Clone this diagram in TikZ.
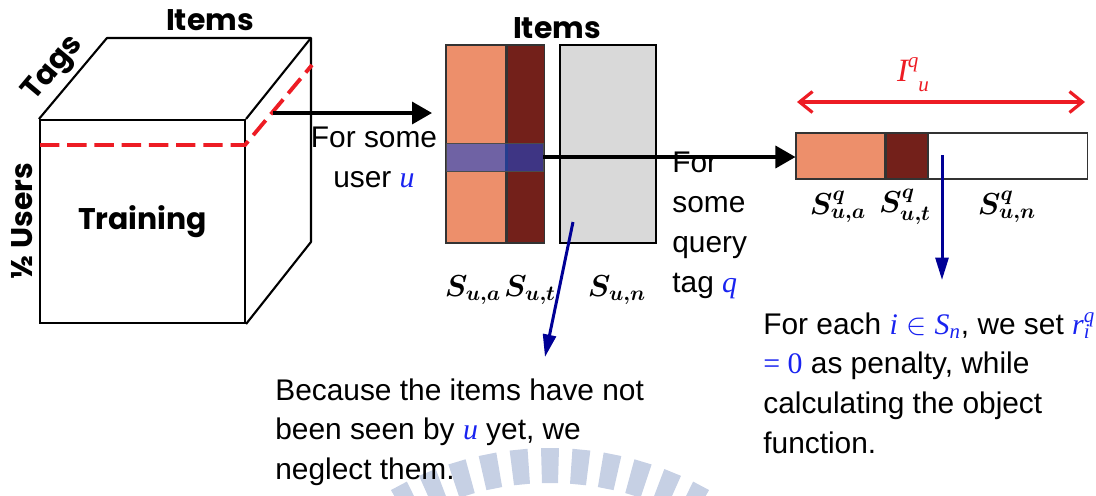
\documentclass[tikz,border=0pt]{standalone}
\usepackage{amsmath,amssymb,bm}
\usepackage{fontspec}
\setmainfont{Liberation Sans}
\newfontfamily\gothic{Poppins}
\newfontfamily\tms{Liberation Serif}
\usepackage{xcolor}
\usepackage{tikz}
\usetikzlibrary{positioning,arrows.meta}
\definecolor{seenorange}{RGB}{237,143,107}
\definecolor{seenred}{RGB}{115,32,26}
\definecolor{unseengray}{RGB}{217,217,217}
\definecolor{bandblue}{RGB}{28,68,203}
\definecolor{mathblue}{RGB}{25,35,240}
\definecolor{arrowblue}{RGB}{0,0,150}
\definecolor{cutred}{RGB}{237,28,36}
\definecolor{wmblue}{RGB}{198,208,228}
\newcommand{\mvar}[1]{{\tms\itshape #1}}
\tikzstyle{arrow} = [line width=2pt,-{Triangle[length=4mm,width=4.4mm]}]
\tikzstyle{bluearrow} = [line width=1.7pt, arrowblue, -{Triangle[length=4.5mm,width=2.6mm]}]
\tikzstyle{spanarrow} = [line width=1.8pt, cutred, {Straight Barb[length=2.6mm,width=4.2mm]}-{Straight Barb[length=2.6mm,width=4.2mm]}]
\tikzstyle{column} = [rectangle, draw=black!80, line width=0.6pt, inner sep=0pt, minimum height=3.96cm]
\tikzstyle{cell} = [rectangle, draw=black!80, line width=0.6pt, inner sep=0pt, minimum height=0.92cm]
\tikzstyle{note} = [align=left, anchor=north west, inner sep=0pt, font=\fontsize{17}{22.7}\selectfont]
\tikzstyle{slabel} = [inner sep=0pt, font=\fontsize{18.5}{20}\selectfont]
\tikzstyle{gothiclabel} = [inner sep=0pt, font=\gothic\bfseries\fontsize{17}{20}\selectfont]

\begin{document}
\begin{tikzpicture}[x=0.02cm, y=-0.02cm]
		\useasboundingbox (0,0) rectangle (1096,495);
		\coordinate (wm) at (550,770);
		\coordinate (cubeside) at (273,113);
		\coordinate (userin) at (432,113);
		\coordinate (unseenfrom) at (573,222);
		\coordinate (unseento) at (545,357);
		\coordinate (penaltyfrom) at (942,155);
		\coordinate (penaltyto) at (942,280);
		\coordinate (spanl) at (797,102);
		\coordinate (spanr) at (1085,102);
		% watermark
		\begin{scope}
		\clip (0,0) rectangle (1096,495);
		\foreach \k in {-8,...,8} {
			\pgfmathsetmacro{\a}{270+\k*5.6}
			\fill[wmblue, shift={(wm)}] (\a-1.6:287) -- (\a-1.6:322) -- (\a+1.6:322) -- (\a+1.6:287) -- cycle;
		}
		\end{scope}
		% Cube
		\node[draw, line width=1.2pt, minimum width=4.1cm, minimum height=4.06cm, gothiclabel, name=front] at (142.5,221.5) {Training};
		\draw[line width=1.2pt, line join=round] (front.north west) -- ++(68,-81) coordinate (backtl) -- ++(204,0) coordinate (backtr) -- ++(0,204) -- (front.south east);
		\draw[line width=1.2pt] (front.north east) -- (backtr);
		\draw[cutred, line width=2.2pt, dash pattern=on 11pt off 4.5pt] (40,145) -- (245,145) -- (312,65);
		\node[gothiclabel, name=cubeitems] at (210,20) {Items};
		\node[gothiclabel, rotate=50, name=tags] at (54,69) {Tags};
		\node[gothiclabel, rotate=90, name=users] at (22,221) {½ Users};
		% Items of user u
		\node[column, fill=seenorange, minimum width=1.2cm, name=sua] at (476,144) {};
		\node[column, fill=seenred, minimum width=0.74cm, right=0pt of sua, name=sut] {};
		\node[column, fill=unseengray, draw=black, line width=1pt, minimum width=1.92cm, name=sun] at (608,144) {};
		\node[draw=black!70, fill=bandblue, fill opacity=.6, minimum width=1.94cm, minimum height=0.56cm, inner sep=0pt, name=band] at (494.5,157) {};
		\node[gothiclabel, name=useritems] at (557,28) {Items};
		\node[slabel] at (473,290) {$\bm{S_{u,a}}$};
		\node[slabel] at (530,290) {$\bm{S_{u,t}}$};
		\node[slabel] at (617,290) {$\bm{S_{u,n}}$};
		% Items of query tag q
		\node[cell, fill=seenorange, minimum width=1.78cm, name=qa] at (840.5,156) {};
		\node[cell, fill=seenred, minimum width=0.82cm, right=0pt of qa, name=qt] {};
		\node[cell, fill=white, minimum width=3.18cm, right=0pt of qt, name=qn] {};
		\node[slabel] at (838,207) {$\bm{S^{q}_{u,a}}$};
		\node[slabel] at (905,207) {$\bm{S^{q}_{u,t}}$};
		\node[slabel] at (1007,207) {$\bm{S^{q}_{u,n}}$};
		\draw[spanarrow] (spanl) -- (spanr);
		\node[slabel, text=cutred, name=iqu] at (913,75) {\mvar{I}\raisebox{0.8ex}{\fontsize{12}{12}\selectfont\mvar{q}}\raisebox{-0.6ex}{\fontsize{12}{12}\selectfont\mvar{u}}};
		% Arrows
		\draw[arrow] (cubeside) -- (userin);
		\draw[arrow] (band.east) -- (band.east -| qa.west);
		\draw[bluearrow] (unseenfrom) -- (unseento);
		\draw[bluearrow] (penaltyfrom) -- (penaltyto);
		% Texts
		\node[note, align=center, anchor=north, name=usertext] at (374,127) {For some\\user \textcolor{mathblue}{\mvar{u}}};
		\node[note, name=querytext] at (672,152) {For\\some\\query\\tag \textcolor{mathblue}{\mvar{q}}};
		\node[note, name=neglect] at (275,378) {Because the items have not\\been seen by \textcolor{mathblue}{\mvar{u}} yet, we\\neglect them.};
		\node[note, name=penalty] at (763,312) {For each \textcolor{mathblue}{\mvar{i} $\in$ \mvar{S}\textsubscript{\mvar{n}}}, we set \textcolor{mathblue}{\mvar{r}\rlap{\textsuperscript{\mvar{q}}}\textsubscript{\mvar{i}}}\\\textcolor{mathblue}{\tms = 0} as penalty, while\\calculating the object\\function.};
\end{tikzpicture}
\end{document}
